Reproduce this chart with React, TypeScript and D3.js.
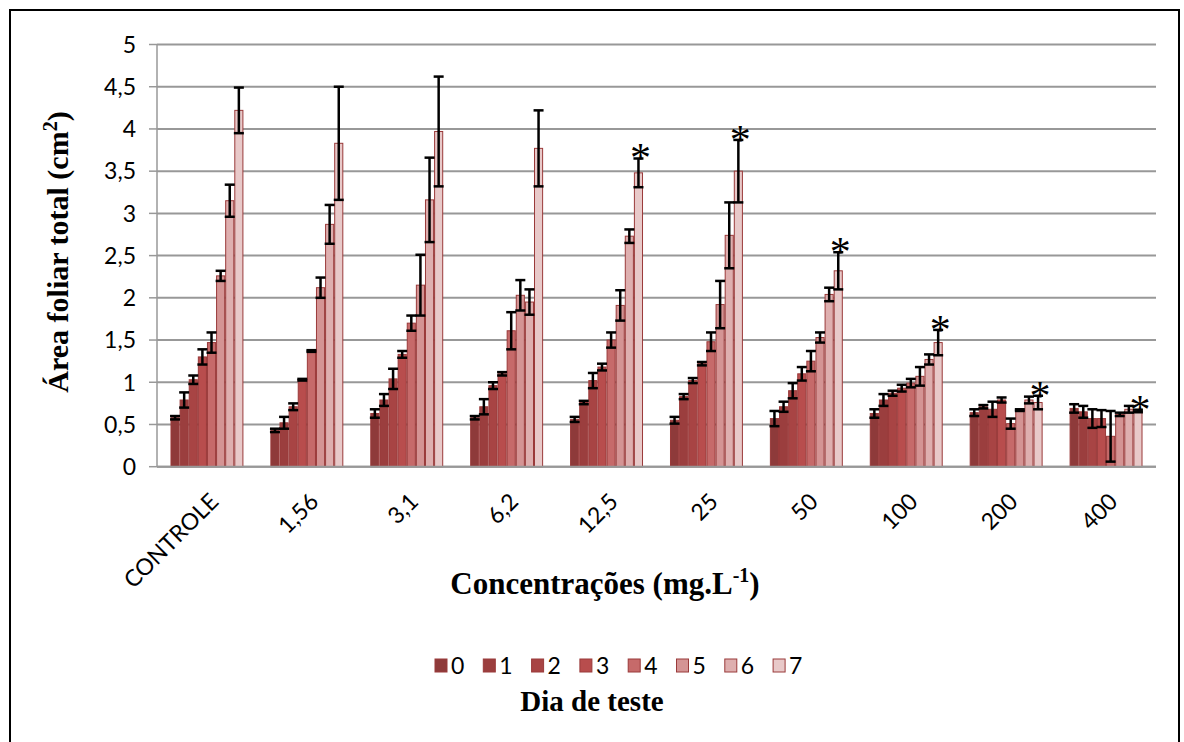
import React from "react";
import * as d3 from "d3";

const categories = ["CONTROLE", "1,56", "3,1", "6,2", "12,5", "25", "50", "100", "200", "400"];
const days = ["0", "1", "2", "3", "4", "5", "6", "7"];

// mean leaf area per test day, one value per concentration
const day0 = [0.58, 0.43, 0.63, 0.58, 0.56, 0.55, 0.57, 0.63, 0.64, 0.69];
const day1 = [0.79, 0.52, 0.79, 0.71, 0.76, 0.83, 0.71, 0.79, 0.71, 0.65];
const day2 = [1.03, 0.71, 1.04, 0.96, 1.02, 1.02, 0.9, 0.87, 0.68, 0.57];
const day3 = [1.3, 1.03, 1.33, 1.1, 1.18, 1.22, 1.1, 0.93, 0.79, 0.57];
const day4 = [1.47, 1.37, 1.7, 1.61, 1.5, 1.48, 1.25, 0.99, 0.51, 0.36];
const day5 = [2.26, 2.12, 2.15, 2.03, 1.91, 1.92, 1.53, 1.07, 0.67, 0.62];
const day6 = [3.15, 2.87, 3.16, 1.95, 2.73, 2.74, 2.04, 1.27, 0.79, 0.68];
const day7 = [4.22, 3.83, 3.97, 3.77, 3.48, 3.5, 2.32, 1.47, 0.76, 0.66];

// error bar half-lengths
const err0 = [0.02, 0.02, 0.05, 0.02, 0.03, 0.04, 0.09, 0.05, 0.04, 0.05];
const err1 = [0.09, 0.07, 0.07, 0.09, 0.02, 0.03, 0.06, 0.07, 0.02, 0.07];
const err2 = [0.05, 0.04, 0.12, 0.04, 0.09, 0.03, 0.09, 0.03, 0.09, 0.11];
const err3 = [0.09, 0.01, 0.04, 0.02, 0.04, 0.02, 0.08, 0.04, 0.03, 0.1];
const err4 = [0.12, 0.01, 0.09, 0.22, 0.09, 0.11, 0.12, 0.05, 0.06, 0.3];
const err5 = [0.06, 0.12, 0.36, 0.18, 0.18, 0.28, 0.06, 0.11, 0.01, 0.02];
const err6 = [0.19, 0.23, 0.5, 0.15, 0.08, 0.39, 0.08, 0.06, 0.04, 0.04];
const err7 = [0.27, 0.67, 0.65, 0.45, 0.17, 0.37, 0.22, 0.15, 0.08, 0.015];

// asterisk (significant difference) on day 7
const significant = [false, false, false, false, true, true, true, true, true, true];

const yTicks = [0, 0.5, 1, 1.5, 2, 2.5, 3, 3.5, 4, 4.5, 5];

const colors = ["#8E3A3A", "#9B3E3E", "#A84444", "#B84D4D", "#C66A6A", "#D49494", "#DEAFAF", "#E8C9C9"];

const means = [day0, day1, day2, day3, day4, day5, day6, day7];
const errs = [err0, err1, err2, err3, err4, err5, err6, err7];

const fmt = (v: number) => String(v).replace(".", ",");

export default function App() {
  const W = 1184;
  const H = 742;
  const left = 157;
  const right = 1156;
  const top = 44.5;
  const bottom = 466.7;

  const x0 = d3.scaleBand<string>().domain(categories).range([left, right]).paddingInner(0.27).paddingOuter(0.135);
  const x1 = d3.scaleBand<string>().domain(days).range([0, x0.bandwidth()]);
  const y = d3.scaleLinear().domain([0, 5]).range([bottom, top]);
  const bw = x1.bandwidth();

  const sans = "Lato, 'Open Sans', sans-serif";
  const serif = "'Liberation Serif', 'DejaVu Serif', serif";
  const grid = "#989898";

  return (
    <svg width={W} height={H} style={{ position: "absolute", left: 0, top: 0, display: "block", background: "#fff" }}>
      <rect x={10} y={10} width={1169} height={760} fill="#fff" stroke="#000" strokeWidth={2} />

      {/* gridlines */}
      {yTicks.map((t) => (
        <line key={"g" + t} x1={left} x2={right} y1={y(t)} y2={y(t)} stroke={grid} strokeWidth={2} />
      ))}
      {/* y axis */}
      <line x1={left} x2={left} y1={top} y2={bottom} stroke={grid} strokeWidth={1.5} />
      {yTicks.map((t) => (
        <g key={"t" + t}>
          <line x1={left - 8} x2={left} y1={y(t)} y2={y(t)} stroke={grid} strokeWidth={1.5} />
          <text x={136} y={y(t)} dy="0.36em" textAnchor="end" fontFamily={sans} fontSize={23} fill="#000">
            {fmt(t)}
          </text>
        </g>
      ))}

      {/* bars */}
      {categories.map((c, ci) => (
        <g key={"c" + c} transform={`translate(${x0(c)},0)`}>
          {days.map((d, di) => {
            const v = means[di][ci];
            return (
              <rect
                key={"b" + d}
                x={(x1(d) as number) + 0.5}
                y={y(v)}
                width={bw - 1}
                height={y(0) - y(v)}
                fill={colors[di]}
                stroke="#9A3A3A"
                strokeWidth={1}
              />
            );
          })}
          {days.map((d, di) => {
            const v = means[di][ci];
            const e = errs[di][ci];
            const cx = (x1(d) as number) + bw / 2;
            return (
              <g key={"e" + d} stroke="#000" strokeWidth={2.5}>
                <line x1={cx} x2={cx} y1={y(v + e)} y2={y(v - e)} />
                <line x1={cx - 5} x2={cx + 5} y1={y(v + e)} y2={y(v + e)} />
                <line x1={cx - 5} x2={cx + 5} y1={y(v - e)} y2={y(v - e)} />
              </g>
            );
          })}
          {significant[ci] && (
            <text
              x={(x1("7") as number) + bw / 2 + 2}
              y={y(means[7][ci] + errs[7][ci]) + 14}
              textAnchor="middle"
              fontFamily={serif}
              fontSize={42}
              fill="#000"
            >
              *
            </text>
          )}
        </g>
      ))}

      {/* x axis */}
      <line x1={left} x2={right} y1={bottom} y2={bottom} stroke={grid} strokeWidth={2} />
      {categories.map((c) => {
        const cx = (x0(c) as number) + x0.bandwidth() / 2 + 13;
        const cy = 503;
        return (
          <text
            key={"x" + c}
            x={cx}
            y={cy}
            transform={`rotate(-45 ${cx} ${cy})`}
            textAnchor="end"
            fontFamily={sans}
            fontSize={23}
            fill="#000"
          >
            {c}
          </text>
        );
      })}

      {/* axis titles */}
      <text
        transform={`translate(68,252) rotate(-90)`}
        textAnchor="middle"
        fontFamily={serif}
        fontWeight="bold"
        fontSize={30}
        fill="#000"
      >
        Área foliar total (cm<tspan fontSize={20} dy={-11}>2</tspan>
        <tspan dy={11}>)</tspan>
      </text>
      <text x={605} y={594} textAnchor="middle" fontFamily={serif} fontWeight="bold" fontSize={31} fill="#000">
        Concentrações (mg.L<tspan fontSize={20} dy={-12}>-1</tspan>
        <tspan dy={12}>)</tspan>
      </text>

      {/* legend */}
      {days.map((d, di) => {
        const lx = 435 + di * 48.3;
        return (
          <g key={"l" + d}>
            <rect x={lx} y={659} width={12} height={13} fill={colors[di]} stroke="#9A3A3A" strokeWidth={1} />
            <text x={lx + 16} y={666} dy="0.36em" fontFamily={sans} fontSize={23} fill="#000">
              {d}
            </text>
          </g>
        );
      })}
      <text x={592} y={711} textAnchor="middle" fontFamily={serif} fontWeight="bold" fontSize={29} fill="#000">
        Dia de teste
      </text>
    </svg>
  );
}
